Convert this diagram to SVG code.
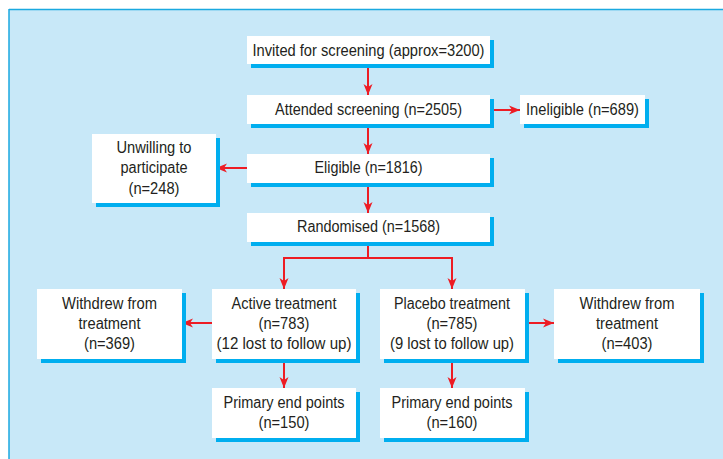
<svg xmlns="http://www.w3.org/2000/svg" width="723" height="459" viewBox="0 0 723 459">
<style>
.box{fill:#ffffff}
.sh{fill:#00aeef}
.t{font-family:"Liberation Sans",Arial,sans-serif;font-size:16px;fill:#231f20;text-anchor:middle}
.c{fill:none;stroke:#ed1c24;stroke-width:2}
</style>
<defs>
<marker id="ah" markerUnits="userSpaceOnUse" markerWidth="12" markerHeight="10" refX="11" refY="5" orient="auto">
<path d="M0,0.5 L11,5 L0,9.5 L3,5 z" fill="#ed1c24"/>
</marker>
</defs>
<rect x="0" y="0" width="723" height="459" fill="#ffffff"/>
<rect x="9" y="9" width="714" height="450" fill="#c8e8f8"/>
<line x1="9" y1="9.5" x2="723" y2="9.5" stroke="#1aa9e0" stroke-width="1.5"/>
<line x1="9" y1="9" x2="9" y2="459" stroke="#1aa9e0" stroke-width="1.5"/>

<g id="connectors">
<line class="c" x1="368" y1="64" x2="368" y2="95" marker-end="url(#ah)"/>
<line class="c" x1="368" y1="124" x2="368" y2="154" marker-end="url(#ah)"/>
<line class="c" x1="490" y1="110" x2="520" y2="110" marker-end="url(#ah)"/>
<line class="c" x1="247" y1="168" x2="216" y2="168" marker-end="url(#ah)"/>
<line class="c" x1="368" y1="183" x2="368" y2="213" marker-end="url(#ah)"/>
<path class="c" d="M368,242 V258 H284 V289" marker-end="url(#ah)"/>
<path class="c" d="M368,258 H452 V289" marker-end="url(#ah)"/>
<line class="c" x1="212" y1="323" x2="182" y2="323" marker-end="url(#ah)"/>
<line class="c" x1="525" y1="323" x2="554" y2="323" marker-end="url(#ah)"/>
<line class="c" x1="284" y1="359" x2="284" y2="388" marker-end="url(#ah)"/>
<line class="c" x1="452" y1="359" x2="452" y2="388" marker-end="url(#ah)"/>
</g>

<g id="invited">
<rect class="sh" x="251" y="40" width="243" height="28"/>
<rect class="box" x="247" y="36" width="243" height="28"/>
<text class="t" x="368.5" y="56" textLength="232" lengthAdjust="spacingAndGlyphs">Invited for screening (approx=3200)</text>
</g>
<g id="attended">
<rect class="sh" x="251" y="99" width="243" height="29"/>
<rect class="box" x="247" y="95" width="243" height="29"/>
<text class="t" x="368.5" y="115" textLength="187" lengthAdjust="spacingAndGlyphs">Attended screening (n=2505)</text>
</g>
<g id="ineligible">
<rect class="sh" x="524" y="99" width="125" height="29"/>
<rect class="box" x="520" y="95" width="125" height="29"/>
<text class="t" x="582.5" y="115" textLength="113" lengthAdjust="spacingAndGlyphs">Ineligible (n=689)</text>
</g>
<g id="unwilling">
<rect class="sh" x="96" y="138" width="124" height="69"/>
<rect class="box" x="92" y="134" width="124" height="69"/>
<text class="t" x="154" y="153" textLength="75" lengthAdjust="spacingAndGlyphs">Unwilling to</text>
<text class="t" x="154" y="173" textLength="67" lengthAdjust="spacingAndGlyphs">participate</text>
<text class="t" x="154" y="193.5" textLength="51" lengthAdjust="spacingAndGlyphs">(n=248)</text>
</g>
<g id="eligible">
<rect class="sh" x="251" y="158" width="243" height="29"/>
<rect class="box" x="247" y="154" width="243" height="29"/>
<text class="t" x="368.5" y="173" textLength="108" lengthAdjust="spacingAndGlyphs">Eligible (n=1816)</text>
</g>
<g id="randomised">
<rect class="sh" x="251" y="217" width="243" height="29"/>
<rect class="box" x="247" y="213" width="243" height="29"/>
<text class="t" x="368.5" y="232" textLength="143" lengthAdjust="spacingAndGlyphs">Randomised (n=1568)</text>
</g>
<g id="withdrew-active">
<rect class="sh" x="41" y="293" width="145" height="70"/>
<rect class="box" x="37" y="289" width="145" height="70"/>
<text class="t" x="109.5" y="309" textLength="95" lengthAdjust="spacingAndGlyphs">Withdrew from</text>
<text class="t" x="109.5" y="329" textLength="62" lengthAdjust="spacingAndGlyphs">treatment</text>
<text class="t" x="109.5" y="349" textLength="51" lengthAdjust="spacingAndGlyphs">(n=369)</text>
</g>
<g id="active">
<rect class="sh" x="216" y="293" width="144" height="70"/>
<rect class="box" x="212" y="289" width="144" height="70"/>
<text class="t" x="284" y="309" textLength="105" lengthAdjust="spacingAndGlyphs">Active treatment</text>
<text class="t" x="284" y="329" textLength="51" lengthAdjust="spacingAndGlyphs">(n=783)</text>
<text class="t" x="284" y="349" textLength="135" lengthAdjust="spacingAndGlyphs">(12 lost to follow up)</text>
</g>
<g id="placebo">
<rect class="sh" x="384" y="293" width="145" height="70"/>
<rect class="box" x="380" y="289" width="145" height="70"/>
<text class="t" x="452" y="309" textLength="116" lengthAdjust="spacingAndGlyphs">Placebo treatment</text>
<text class="t" x="452" y="329" textLength="51" lengthAdjust="spacingAndGlyphs">(n=785)</text>
<text class="t" x="452" y="349" textLength="124" lengthAdjust="spacingAndGlyphs">(9 lost to follow up)</text>
</g>
<g id="withdrew-placebo">
<rect class="sh" x="558" y="293" width="146" height="70"/>
<rect class="box" x="554" y="289" width="146" height="70"/>
<text class="t" x="627" y="309" textLength="95" lengthAdjust="spacingAndGlyphs">Withdrew from</text>
<text class="t" x="627" y="329" textLength="62" lengthAdjust="spacingAndGlyphs">treatment</text>
<text class="t" x="627" y="349" textLength="51" lengthAdjust="spacingAndGlyphs">(n=403)</text>
</g>
<g id="primary-active">
<rect class="sh" x="216" y="392" width="144" height="50"/>
<rect class="box" x="212" y="388" width="144" height="50"/>
<text class="t" x="284" y="408" textLength="121" lengthAdjust="spacingAndGlyphs">Primary end points</text>
<text class="t" x="284" y="428" textLength="51" lengthAdjust="spacingAndGlyphs">(n=150)</text>
</g>
<g id="primary-placebo">
<rect class="sh" x="384" y="392" width="145" height="50"/>
<rect class="box" x="380" y="388" width="145" height="50"/>
<text class="t" x="452" y="408" textLength="121" lengthAdjust="spacingAndGlyphs">Primary end points</text>
<text class="t" x="452" y="428" textLength="51" lengthAdjust="spacingAndGlyphs">(n=160)</text>
</g>
</svg>
